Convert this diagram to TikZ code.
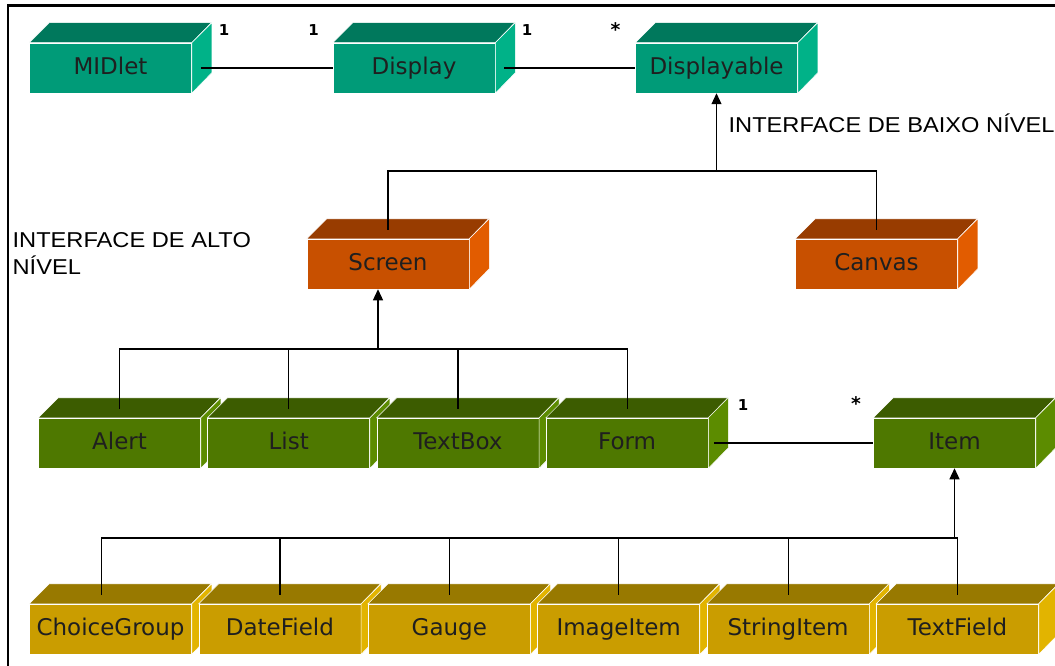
\documentclass[tikz,border=0pt]{standalone}
\usepackage{fontspec}
\usepackage{tikz}
\usetikzlibrary{arrows.meta,calc,positioning}
\newfontfamily\boxfont{DejaVu Sans}
\newfontfamily\notefont[FakeStretch=1.1]{Liberation Sans}

\definecolor{tealF}{RGB}{0,155,120}
\definecolor{tealT}{RGB}{0,120,92}
\definecolor{tealS}{RGB}{0,178,136}
\definecolor{rustF}{RGB}{200,80,0}
\definecolor{rustT}{RGB}{152,60,0}
\definecolor{rustS}{RGB}{226,92,0}
\definecolor{oliveF}{RGB}{78,120,0}
\definecolor{oliveT}{RGB}{60,92,0}
\definecolor{oliveS}{RGB}{92,140,0}
\definecolor{goldF}{RGB}{202,157,0}
\definecolor{goldT}{RGB}{152,121,0}
\definecolor{goldS}{RGB}{226,180,0}

\tikzset{
    cube/.style ={rectangle, draw=white, line width=0.5pt, minimum width=162pt, minimum height=50pt,
                  inner sep=0pt, text height=17pt, text depth=4pt,
                  font=\boxfont\fontsize{23}{23}\selectfont, text=black!88},
    face/.style={draw=white, line width=0.5pt},
    gen/.style={-{Triangle[length=11pt,width=10pt]}},
    mult/.style={font=\boxfont\bfseries\fontsize{15}{15}\selectfont, inner sep=0pt},
    note/.style={font=\notefont\fontsize{21.5}{27}\selectfont, inner sep=0pt, align=left}
}

% front face as a node, top and side faces behind it
\newcommand{\cuboid}[4]{%
    \node[cube, fill=#1F] (#2) at (#3) {#4};
    \filldraw[face, fill=#1T] (#2.north west) -- ++(20,-20) -- ++(162,0) -- (#2.north east) -- cycle;
    \filldraw[face, fill=#1S] (#2.north east) -- ++(20,-20) -- ++(0,50) -- (#2.south east) -- cycle;
}

\begin{document}
\begin{tikzpicture}[x=1pt, y=-1pt, line width=1.2pt]
    \useasboundingbox[fill=white] (0,0) rectangle (1055,666);
    \draw[line width=2.5pt] (1055,5.5) -- (8,5.5) -- (8,666);

    \cuboid{teal}{midlet}{110.5,68}{MIDlet}
    \cuboid{teal}{display}{414,68}{Display}
    \cuboid{teal}{displayable}{716.5,68}{Displayable}

    \cuboid{rust}{screen}{388,264}{Screen}
    \cuboid{rust}{canvas}{876.5,264}{Canvas}

    \foreach \n/\t [count=\i from 0] in {alert/Alert, list/List, textbox/TextBox, form/Form}
        {\cuboid{olive}{\n}{119.5+169.2*\i,443}{\t}}
    \cuboid{olive}{item}{954.5,443}{Item}

    \foreach \n/\t [count=\i from 0] in {choice/ChoiceGroup, datefield/DateField, gauge/Gauge,
        imageitem/ImageItem, stringitem/StringItem, textfield/TextField}
        {\cuboid{gold}{\n}{110.5+169.4*\i,629}{\t}}

    % associations
    \draw ([xshift=9pt]midlet.east) -- (display.west);
    \draw ([xshift=9pt]display.east) -- (displayable.west);
    \draw ([xshift=6pt]form.east) -- (item.west);
    \node[mult] (m1) at (224,30) {1};
    \node[mult] (m2) at (313.5,30) {1};
    \node[mult] (m3) at (527,30) {1};
    \node[mult, scale=1.25] (m4) at (615.5,30) {*};
    \node[mult] (m5) at (743,405.5) {1};
    \node[mult, scale=1.25] (m6) at (856,404) {*};

    % generalizations
    \coordinate (j1) at (716.5,171);
    \draw ([yshift=9pt]screen.north) |- (j1) -| ([yshift=9pt]canvas.north);
    \draw[gen] (j1) -- (displayable.south);

    \coordinate (j2) at (378,349);
    \draw ([yshift=9pt]alert.north) |- (form.north |- j2) -- ([yshift=9pt]form.north);
    \foreach \n in {list,textbox}
        \draw ([yshift=9pt]\n.north) -- (\n.north |- j2);
    \draw[gen] (j2) -- (j2 |- screen.south);

    \coordinate (j3) at (954.5,538);
    \draw ([xshift=-9pt,yshift=9pt]choice.north) |- (textfield.north |- j3) -- ([yshift=9pt]textfield.north);
    \foreach \n in {datefield,gauge,imageitem,stringitem}
        \draw ([yshift=9pt]\n.north) -- (\n.north |- j3);
    \draw[gen] (j3) -- (item.south);

    \node[note, anchor=base west] (low) at (728,133) {INTERFACE DE BAIXO NÍVEL};
    \node[note, anchor=north west] (high) at (12,232) {INTERFACE DE ALTO\\NÍVEL};
\end{tikzpicture}
\end{document}
